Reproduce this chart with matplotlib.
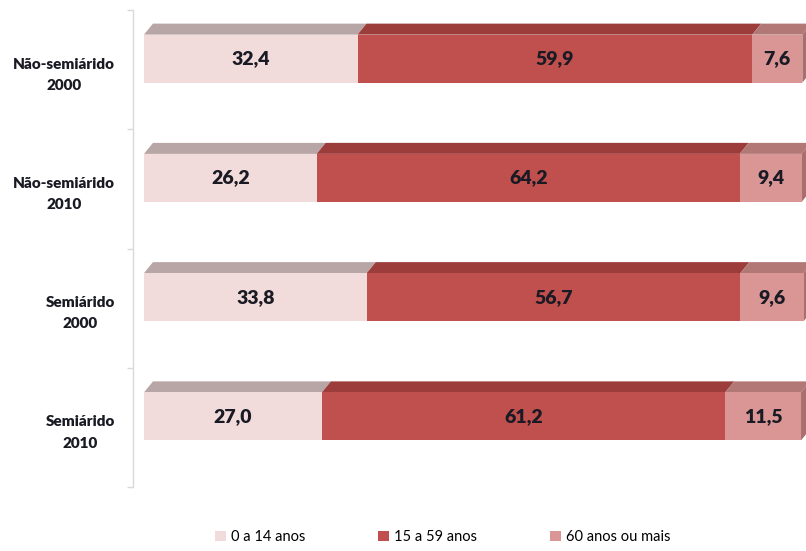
import matplotlib
matplotlib.use("Agg")
import matplotlib.pyplot as plt
from matplotlib.patches import Polygon, Patch

# age structure (%) by region and census year
categories = ["Não-semiárido\n2000", "Não-semiárido\n2010", "Semiárido\n2000", "Semiárido\n2010"]
age_0_14 = [32.4, 26.2, 33.8, 27.0]
age_15_59 = [59.9, 64.2, 56.7, 61.2]
age_60_plus = [7.6, 9.4, 9.6, 11.5]
series_names = ["0 a 14 anos", "15 a 59 anos", "60 anos ou mais"]

front_colors = ["#F2DCDB", "#C0504D", "#D99694"]
top_colors = ["#B8A5A5", "#9C3D3B", "#B27876"]
side_color = "#A86F6D"

W, H = 806, 551
fig = plt.figure(figsize=(W / 100, H / 100), dpi=100)

# axes spans from the vertical axis line to the right edge
ax_left_px, ax_right_px = 133, 806
ax_top_px, ax_bot_px = 10, 487
ax = fig.add_axes([ax_left_px / W, 1 - ax_bot_px / H,
                   (ax_right_px - ax_left_px) / W, (ax_bot_px - ax_top_px) / H])

px_per_unit = 6.59
x0 = -(144 - ax_left_px) / px_per_unit
ax.set_xlim(x0, x0 + (ax_right_px - ax_left_px) / px_per_unit)
ax.set_ylim(len(categories) - 0.5, -0.5)

cat_px = (ax_bot_px - ax_top_px) / len(categories)
bar_h = 48 / cat_px
lift = 11 / cat_px        # front face sits above the category centre
depth_x = 9 / px_per_unit
depth_y = 11 / cat_px

series = [age_0_14, age_15_59, age_60_plus]
for i in range(len(categories)):
    yc = i - lift
    top = yc - bar_h / 2
    bottom = yc + bar_h / 2
    left = 0.0
    for k, vals in enumerate(series):
        v = vals[i]
        ax.barh(yc, v, left=left, height=bar_h, color=front_colors[k], edgecolor="none", zorder=2)
        ax.add_patch(Polygon([(left, top), (left + depth_x, top - depth_y),
                              (left + v + depth_x, top - depth_y), (left + v, top)],
                             closed=True, facecolor=top_colors[k], edgecolor="none", zorder=1))
        ax.text(left + v / 2, yc, f"{v:.1f}".replace(".", ","), ha="center", va="center",
                fontsize=14, fontweight="heavy", family="Lato", color="#1A1A24", zorder=3)
        left += v
    # right side face of the stack
    ax.add_patch(Polygon([(left, top), (left + depth_x, top - depth_y),
                          (left + depth_x, bottom - depth_y), (left, bottom)],
                         closed=True, facecolor=side_color, edgecolor="none", zorder=1))

for s in ["top", "right", "bottom"]:
    ax.spines[s].set_visible(False)
ax.spines["left"].set_color("#D9D9D9")
ax.spines["left"].set_linewidth(1.0)
ax.set_xticks([])

ax.set_yticks(range(len(categories)))
ax.set_yticklabels(categories, fontsize=11, fontweight="heavy", family="Lato",
                   color="#1A1A24", multialignment="center", linespacing=1.75)
ax.tick_params(axis="y", which="major", length=0, pad=13)
ax.set_yticks([i - 0.5 for i in range(len(categories) + 1)], minor=True)
ax.tick_params(axis="y", which="minor", length=4, color="#D9D9D9", width=1)

handles = [Patch(facecolor=c, edgecolor="none") for c in front_colors]
fig.legend(handles, series_names, loc="center", bbox_to_anchor=(443 / W, 1 - 537 / H),
           ncol=3, frameon=False, handlelength=0.75, handleheight=0.75, handletextpad=0.35,
           columnspacing=5.0, prop={"family": "Lato", "size": 10.5})

fig.savefig("out.png", dpi=100, facecolor="white")
